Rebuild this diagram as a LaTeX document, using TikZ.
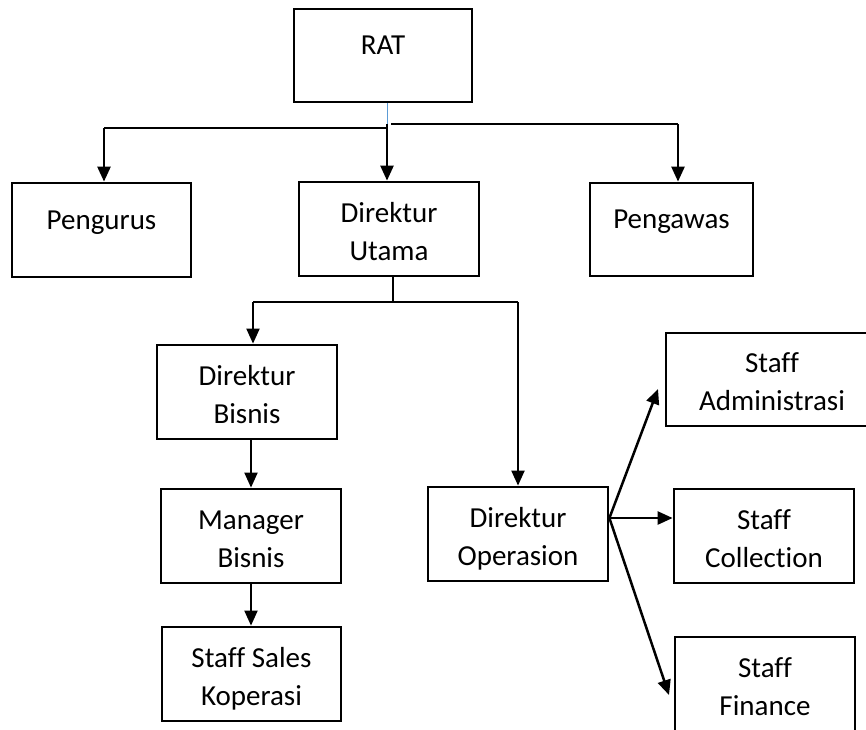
\documentclass[tikz,border=0pt]{standalone}
\usepackage{fontspec}
\setmainfont{Carlito}[Ligatures=NoCommon]
\usetikzlibrary{arrows.meta,calc}
\begin{document}
\begin{tikzpicture}[x=1pt,y=-1pt,
  box/.style={draw=black, line width=2.8pt, rectangle, inner sep=0pt, align=center,
    font=\fontsize{29}{38}\selectfont},
  one/.style={box, text height=18pt, text depth=20pt},
  two/.style={box, text height=62pt, text depth=0pt},
  conthin/.style={line width=1.3pt},
  conmid/.style={line width=2pt},
  conthick/.style={line width=2.5pt},
  tip/.style={-{Triangle[length=15pt,width=13pt]}},
  bluelink/.style={line width=1pt, draw={rgb,255:red,91;green,155;blue,213}}
]
\useasboundingbox (0,0) rectangle (866,729);
\fill[white] (0,0) rectangle (866,729);
\clip (0,0) rectangle (866,729);

% boxes
\node[one, minimum width=178pt, minimum height=93pt] (rat) at (383,55.5) {RAT};
\node[one, minimum width=179pt, minimum height=94pt] (pengurus) at (101.5,230) {Pengurus};
\node[two, minimum width=180pt, minimum height=94pt] (dirut) at (389,229) {Direktur\\Utama};
\node[one, minimum width=163pt, minimum height=93pt] (pengawas) at (671.5,229.5) {Pengawas};
\node[two, minimum width=180pt, minimum height=94pt] (dirbis) at (247,392) {Direktur\\Bisnis};
\node[two, minimum width=180pt, minimum height=94pt] (manbis) at (251,536) {Manager\\Bisnis};
\node[two, minimum width=179pt, minimum height=94pt] (sales) at (251.5,674) {Staff Sales\\Koperasi};
\node[two, minimum width=180pt, minimum height=94pt] (dirop) at (518,534) {Direktur\\Operasion};
\node[two, minimum width=212pt, minimum height=93pt] (admin) at (772,379.5) {Staff\\Administrasi};
\node[two, minimum width=180pt, minimum height=94pt] (coll) at (764,536) {Staff\\Collection};
\node[two, minimum width=180pt, minimum height=94pt] (fin) at (765,684) {Staff\\Finance};

% connectors from RAT
\coordinate (j0) at (387,124);
\coordinate (jl) at (387,128);
\coordinate (pgin) at ([xshift=2.5pt]pengurus.north);
\coordinate (pwin) at ([xshift=6.5pt]pengawas.north);
\draw[bluelink] ([xshift=4pt]rat.south) -- (j0);
\draw[conthin] (jl) -- (jl -| pgin);
\draw[conthick,tip] (jl -| pgin) -- (pgin);
\draw[conthick,tip] (j0) -- ([xshift=-2pt]dirut.north);
\draw[conthin] ([xshift=4pt]j0) -- (j0 -| pwin);
\draw[conthick,tip] (j0 -| pwin) -- (pwin);

% connectors from Direktur Utama
\coordinate (j1) at (393,302);
\coordinate (dbin) at ([xshift=6pt]dirbis.north);
\coordinate (doin) at (dirop.north);
\draw[conthin] ([xshift=4pt]dirut.south) -- (j1);
\draw[conthin] (j1 -| dbin) -- (j1 -| doin);
\draw[conmid,tip] (j1 -| dbin) -- (dbin);
\draw[conmid,tip] (j1 -| doin) -- (doin);

% business line
\draw[conmid,tip] ([xshift=4pt]dirbis.south) -- (manbis.north);
\draw[conmid,tip] (manbis.south) -- (manbis.south |- sales.north);

% operations
\coordinate (doout) at ([yshift=16pt]dirop.east);
\coordinate (tipA) at (658,389);
\coordinate (tipF) at (669,695);
\draw[conthick,tip] (doout) -- (tipA);
\draw[conthick,tip] (doout) -- (doout -| coll.west);
\draw[conthick,tip] (doout) -- (tipF);
\end{tikzpicture}
\end{document}
